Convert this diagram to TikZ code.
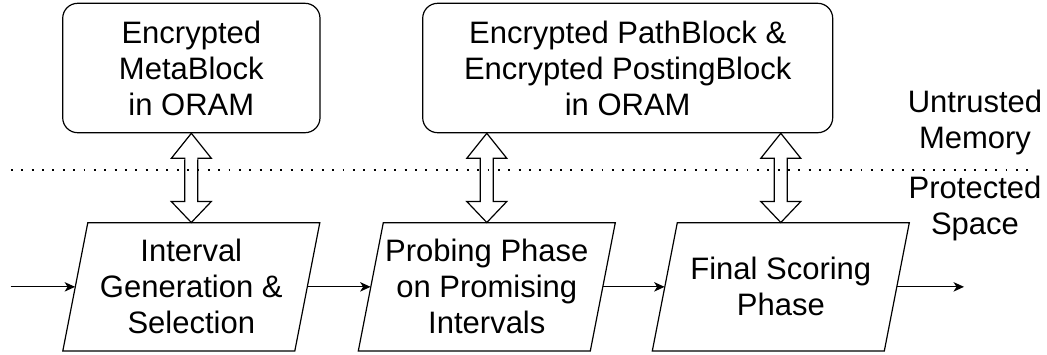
\documentclass[tikz,border=0pt]{standalone}
\usepackage{fontspec}
\setmainfont{Liberation Sans}
\usetikzlibrary{arrows.meta,calc}

\tikzset{
  label font/.style={font=\fontsize{31}{36}\selectfont, align=center},
  store/.style={draw, line width=1.2pt, rounded corners=15pt, label font,
                minimum height=129.4pt, inner sep=0pt},
  phase/.style={label font, minimum width=232pt, minimum height=128.3pt, inner sep=0pt},
  outline/.style={line width=1.2pt, line join=miter},
  flow/.style={line width=1.2pt, -{Stealth[length=10.5pt, width=9.5pt, inset=3pt]}},
  boundary/.style={line width=1.9pt, dash pattern=on 1.9pt off 8.46pt},
  zone/.style={label font, inner sep=0pt}
}

% hollow two-headed access arrow between a store (#1) and a phase (#2)
\newcommand{\accessarrow}[2]{%
  \draw[outline] (#1) -- ++(20,25) -- ++(-13.5,0)
    -- ($(#2)+(6.5,-21)$) -- ++(13.5,0) -- (#2)
    -- ++(-20,-21) -- ++(13.5,0)
    -- ($(#1)+(-6.5,25)$) -- ++(-13.5,0) -- cycle;}

\begin{document}
\begin{tikzpicture}[x=1pt, y=-1pt]
  \useasboundingbox (0,0) rectangle (1047,354);

  % untrusted memory: encrypted ORAM stores
  \node[store, minimum width=257.3pt] (meta) at (191.35,68)
    {Encrypted\\MetaBlock\\in ORAM};
  \node[store, minimum width=410pt] (blocks) at (627.7,68)
    {Encrypted PathBlock \&\\Encrypted PostingBlock\\in ORAM};

  % protected space: the three query phases
  \node[phase] (gen)   at (191.3,286.85) {Interval\\Generation \&\\Selection};
  \node[phase] (probe) at (486.8,286.85) {Probing Phase\\on Promising\\Intervals};
  \node[phase] (score) at (780.8,286.85) {Final Scoring\\Phase};

  \foreach \p in {gen,probe,score}
    \draw[outline] ([shift={(-103.5,-64.15)}]\p.center)
      -- ([shift={(128.5,-64.15)}]\p.center)
      -- ([shift={(103.5,64.15)}]\p.center)
      -- ([shift={(-128.5,64.15)}]\p.center) -- cycle;

  % trust boundary
  \coordinate (bl) at (11,170.3);
  \coordinate (br) at (1028,170.3);
  \draw[boundary] (bl) -- (br);

  \node[zone] (untrusted) at (975,122.8) {Untrusted\\Memory};
  \node[zone] (protected) at (975,208.4) {Protected\\Space};

  % ORAM accesses across the boundary
  \accessarrow{meta.south}{gen.north}
  \coordinate (blocksA) at (blocks.south -| probe.north);
  \coordinate (blocksB) at (blocks.south -| score.north);
  \accessarrow{blocksA}{probe.north}
  \accessarrow{blocksB}{score.north}

  % query flow
  \coordinate (in)  at (10.7,286.85);
  \coordinate (out) at (964,286.85);
  \draw[flow] (in) -- (gen.west);
  \draw[flow] (gen.east) -- (probe.west);
  \draw[flow] (probe.east) -- (score.west);
  \draw[flow] (score.east) -- (out);
\end{tikzpicture}
\end{document}
